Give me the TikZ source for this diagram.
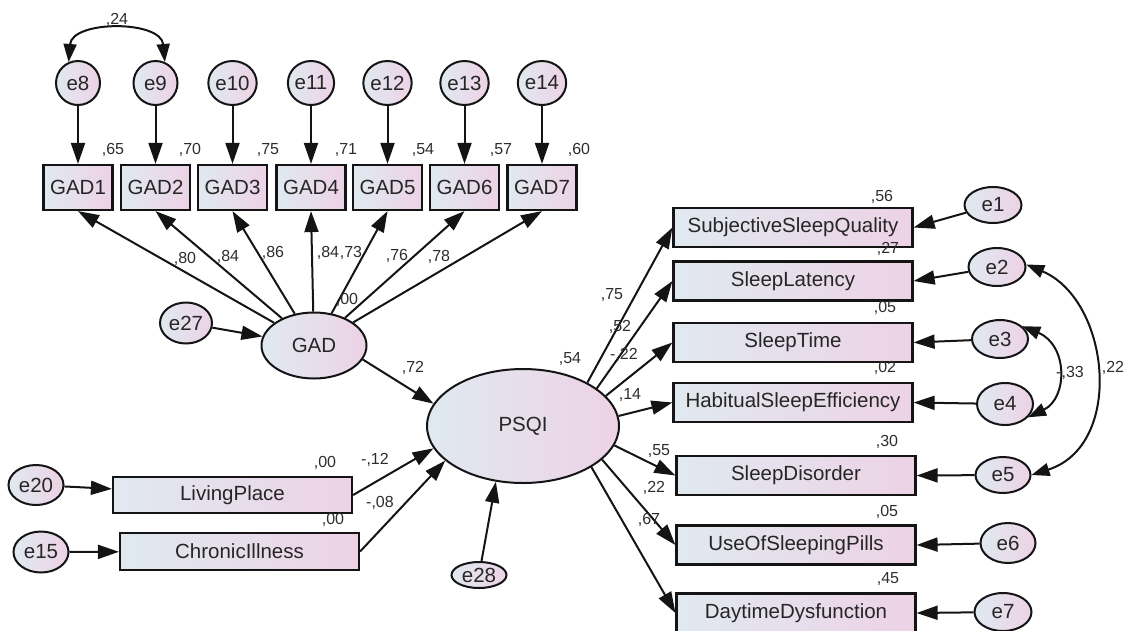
\documentclass[tikz,border=0pt]{standalone}
\usepackage{fontspec}
\setmainfont{Liberation Sans}
\usetikzlibrary{arrows.meta,shapes.geometric}
\definecolor{bleu}{RGB}{224,233,240}
\definecolor{rose}{RGB}{237,210,230}
\definecolor{trait}{RGB}{20,20,20}
\definecolor{gris}{RGB}{45,45,45}
\begin{document}
\begin{tikzpicture}[x=1pt,y=1pt]
\tikzstyle{boite}=[rectangle, draw=trait, line width=2.2pt, inner sep=0pt, left color=bleu, right color=rose, font=\fontsize{20.5}{22}\selectfont, text=black!85]
\tikzstyle{latente}=[ellipse, draw=trait, line width=2pt, inner sep=0pt, left color=bleu, right color=rose, font=\fontsize{20.5}{22}\selectfont, text=black!85]
\tikzstyle{erreur}=[latente, minimum width=56pt, minimum height=38pt]
\tikzstyle{cercle}=[latente, minimum width=44pt, minimum height=44pt]
\tikzstyle{gadbox}=[boite, minimum width=69pt, minimum height=45pt]
\tikzstyle{psqibox}=[boite, minimum width=239pt, minimum height=39pt]
\tikzstyle{fleche}=[draw=trait, line width=2pt, -{Triangle[length=21pt,width=14pt]}]
\tikzstyle{cov}=[draw=trait, line width=2pt, {Triangle[length=18pt,width=13pt]}-{Triangle[length=18pt,width=13pt]}]
\tikzstyle{coef}=[inner sep=0pt, text=gris, font=\fontsize{16}{17}\selectfont]
\useasboundingbox (0,0) rectangle (1124,-630);
\clip (0,0) rectangle (1124,-630);
\node[gadbox] (g1) at (78,-187.5) {GAD1};
\node[gadbox] (g2) at (155.5,-187.5) {GAD2};
\node[gadbox] (g3) at (232.5,-187.5) {GAD3};
\node[gadbox] (g4) at (311,-187.5) {GAD4};
\node[gadbox] (g5) at (387.5,-187.5) {GAD5};
\node[gadbox] (g6) at (464.5,-187.5) {GAD6};
\node[gadbox] (g7) at (542,-187.5) {GAD7};
\node[cercle] (e8) at (78,-83) {e8};
\node[cercle] (e9) at (155.5,-83) {e9};
\node[cercle] (e10) at (232.5,-83) {e10};
\node[cercle] (e11) at (311,-83) {e11};
\node[cercle] (e12) at (387.5,-83) {e12};
\node[cercle] (e13) at (464.5,-83) {e13};
\node[cercle] (e14) at (542,-83) {e14};
\node[latente, minimum width=105pt, minimum height=66pt] (gad) at (314,-345.5) {GAD};
\node[erreur, minimum width=52pt, minimum height=41pt] (e27) at (186,-323) {e27};
\node[latente, minimum width=192pt, minimum height=114pt] (psqi) at (523,-426) {PSQI};
\node[erreur, minimum width=55pt, minimum height=26pt] (e28) at (479,-575) {e28};
\node[boite, minimum width=239pt, minimum height=36pt] (lp) at (232.5,-495) {LivingPlace};
\node[boite, minimum width=239pt, minimum height=37pt] (ci) at (239.5,-551.5) {ChronicIllness};
\node[erreur, minimum width=55pt, minimum height=40pt] (e20) at (36,-485) {e20};
\node[erreur, minimum width=55pt, minimum height=41pt] (e15) at (41,-552) {e15};
\node[psqibox] (ssq) at (793,-227.5) {SubjectiveSleepQuality};
\node[psqibox] (sl) at (793,-281) {SleepLatency};
\node[psqibox] (st) at (793,-342.5) {SleepTime};
\node[psqibox] (hse) at (793,-402.5) {HabitualSleepEfficiency};
\node[psqibox] (sd) at (796,-475.5) {SleepDisorder};
\node[psqibox] (usp) at (796,-545) {UseOfSleepingPills};
\node[psqibox] (dd) at (796,-613) {DaytimeDysfunction};
\node[erreur, minimum width=57pt, minimum height=36pt] (e1) at (993,-205) {e1};
\node[erreur, minimum width=57pt] (e2) at (997,-267) {e2};
\node[erreur] (e3) at (1000,-339) {e3};
\node[erreur, minimum height=42pt] (e4) at (1005,-404) {e4};
\node[erreur, minimum width=55pt, minimum height=36pt] (e5) at (1003,-475) {e5};
\node[erreur, minimum width=55pt, minimum height=40pt] (e6) at (1008,-543) {e6};
\node[erreur, minimum width=57pt] (e7) at (1003,-612) {e7};
\draw[fleche] (e8) -- (g1);
\draw[fleche] (e9) -- (g2);
\draw[fleche] (e10) -- (g3);
\draw[fleche] (e11) -- (g4);
\draw[fleche] (e12) -- (g5);
\draw[fleche] (e13) -- (g6);
\draw[fleche] (e14) -- (g7);
\draw[cov] (e8.114) .. controls (72,-20) and (161,-20) .. (e9.66);
\draw[fleche] (gad) -- (g1.south);
\draw[fleche] (gad) -- (g2.south);
\draw[fleche] (gad) -- (g3.south);
\draw[fleche] (gad) -- (g4.south);
\draw[fleche] (gad) -- (g5.south);
\draw[fleche] (gad) -- (g6.south);
\draw[fleche] (gad) -- (g7.south);
\draw[fleche] (e27) -- (gad);
\draw[fleche] (gad.-16) -- (psqi.166);
\draw[fleche] (e20) -- (lp);
\draw[fleche] (e15) -- (ci);
\draw[fleche] (lp.east) -- (psqi.194);
\draw[fleche] (ci.east) -- (psqi.204);
\draw[fleche] (e28) -- (psqi.244);
\draw[fleche] (psqi.34) -- (ssq.west);
\draw[fleche] (psqi.27.5) -- (sl.west);
\draw[fleche] (psqi.20) -- (st.west);
\draw[fleche] (psqi.6.6) -- (hse.west);
\draw[fleche] (psqi.-12.9) -- (sd.west);
\draw[fleche] (psqi.-23.3) -- (usp.west);
\draw[fleche] (psqi.-31) -- (dd.west);
\draw[fleche] (e1) -- (ssq.east);
\draw[fleche] (e2) -- (sl.east);
\draw[fleche] (e3) -- (st.east);
\draw[fleche] (e4) -- (hse.east);
\draw[fleche] (e5) -- (sd.east);
\draw[fleche] (e6) -- (usp.east);
\draw[fleche] (e7) -- (dd.east);
\draw[cov] (e3.30) .. controls (1068,-345) and (1068,-398) .. (e4.-30);
\draw[cov] (e2.5) .. controls (1110,-300) and (1125,-445) .. (e5.0);
\node[coef] (c24) at (117,-20) {,24};
\node[coef] (r1) at (113,-150) {,65};
\node[coef] (r2) at (190,-150) {,70};
\node[coef] (r3) at (268,-150) {,75};
\node[coef] (r4) at (346,-150) {,71};
\node[coef] (r5) at (423,-150) {,54};
\node[coef] (r6) at (501,-150) {,57};
\node[coef] (r7) at (579,-150) {,60};
\node[coef] (l1) at (185,-259) {,80};
\node[coef] (l2) at (228,-257) {,84};
\node[coef] (l3) at (273,-253) {,86};
\node[coef] (l4) at (328,-253) {,84};
\node[coef] (l5) at (351,-253) {,73};
\node[coef] (l6) at (397,-256) {,76};
\node[coef] (l7) at (439,-257) {,78};
\node[coef] (rgad) at (347,-300) {,00};
\node[coef] (c72) at (413,-368) {,72};
\node[coef] (rpsqi) at (570,-359) {,54};
\node[coef] (rlp) at (325,-463) {,00};
\node[coef] (rci) at (333,-520) {,00};
\node[coef] (clp) at (375,-460) {-,12};
\node[coef] (cci) at (380,-503) {-,08};
\node[coef] (p1) at (612,-295) {,75};
\node[coef] (p2) at (620,-327) {,52};
\node[coef] (p3) at (624,-355) {-,22};
\node[coef] (p4) at (630,-395) {,14};
\node[coef] (p5) at (659,-451) {,55};
\node[coef] (p6) at (654,-488) {,22};
\node[coef] (p7) at (649,-520) {,67};
\node[coef] (q1) at (882,-197) {,56};
\node[coef] (q2) at (888,-249) {,27};
\node[coef] (q3) at (885,-308) {,05};
\node[coef] (q4) at (885,-368) {,02};
\node[coef] (q5) at (887,-442) {,30};
\node[coef] (q6) at (887,-512) {,05};
\node[coef] (q7) at (888,-579) {,45};
\node[coef] (c33) at (1070,-373) {-,33};
\node[coef] (c22) at (1113,-368) {,22};
\end{tikzpicture}
\end{document}
